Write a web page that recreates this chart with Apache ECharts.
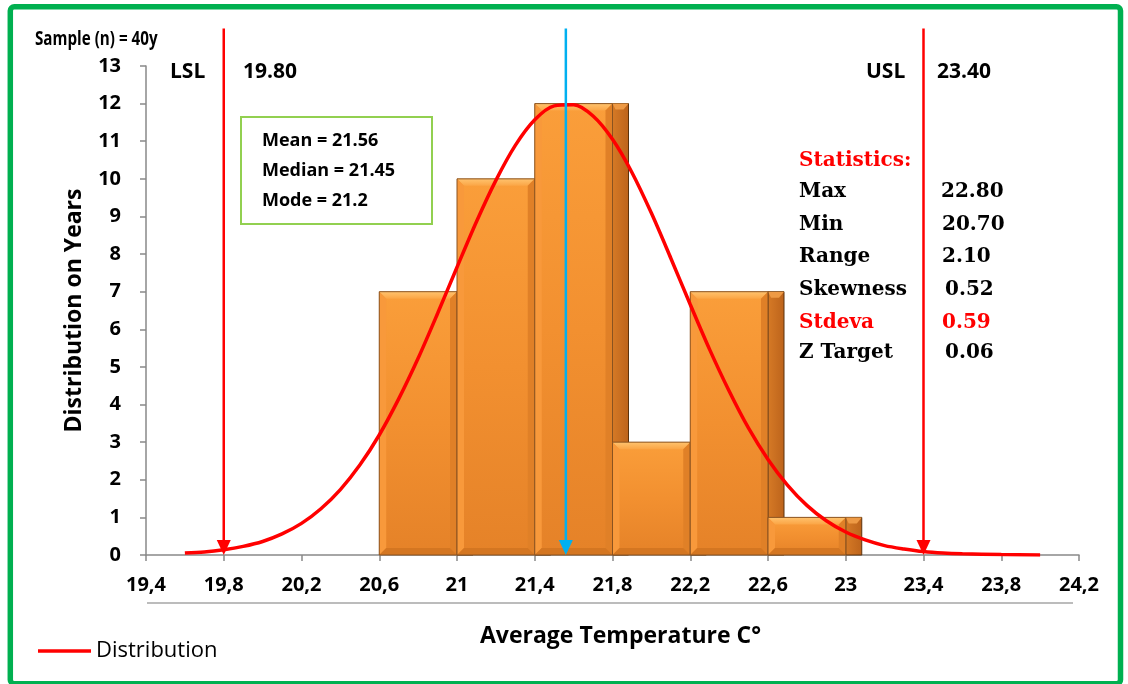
<!DOCTYPE html>
<html>
<head>
<meta charset="utf-8">
<script src="https://cdn.jsdelivr.net/npm/echarts@6/dist/echarts.min.js"></script>
<style>
html,body{margin:0;padding:0;background:#fff;}
#chart{width:1128px;height:684px;}
</style>
</head>
<body>
<div id="chart"></div>
<script>
// ---- data ----
var binStarts = [20.6, 21.0, 21.4, 21.8, 22.2, 22.6];
var binEnds   = [21.0, 21.4, 21.8, 22.2, 22.6, 23.0];
var binCounts = [7, 10, 12, 3, 7, 1];

var curveX = [19.6, 19.7, 19.8, 19.9, 20.0, 20.1, 20.2, 20.3, 20.4, 20.5, 20.6, 20.7, 20.8, 20.9, 21.0,
              21.1, 21.2, 21.3, 21.4, 21.5, 21.6, 21.7, 21.8, 21.9, 22.0, 22.1, 22.2, 22.3, 22.4, 22.5,
              22.6, 22.7, 22.8, 22.9, 23.0, 23.1, 23.2, 23.3, 23.4, 23.5, 23.6, 23.8, 24.0];
var curveY = [0.05, 0.08, 0.14, 0.23, 0.36, 0.56, 0.84, 1.23, 1.74, 2.39, 3.19, 4.15, 5.23, 6.42, 7.65,
              8.86, 9.96, 10.89, 11.57, 11.94, 11.97, 11.67, 11.05, 10.17, 9.09, 7.89, 6.66, 5.46, 4.36, 3.37,
              2.54, 1.86, 1.32, 0.91, 0.61, 0.40, 0.25, 0.16, 0.09, 0.05, 0.03, 0.01, 0.0];

var specLimits = [19.8, 23.4];
var meanValue = 21.56;
var markerTop = 14;

var xMin = 19.4, xMax = 24.2, xStep = 0.4;
var yMin = 0, yMax = 13, yStep = 1;

var statLabels = ['Max', 'Min', 'Range', 'Skewness', 'Stdeva', 'Z Target'];
var statValues = ['22.80', '20.70', '2.10', '0.52', '0.59', '0.06'];
var boxLines = ['Mean = 21.56', 'Median = 21.45', 'Mode = 21.2'];

// ---- build ----
var barData = binStarts.map(function (s, i) { return [s, binEnds[i], binCounts[i]]; });
var curveData = curveX.map(function (x, i) { return [x, curveY[i]]; });

var LG = echarts.graphic.LinearGradient;

function renderBar(params, api) {
  var s = api.value(0), e = api.value(1), c = api.value(2);
  var p0 = api.coord([s, c]);
  var p1 = api.coord([e, 0]);
  var x0 = p0[0], y0 = p0[1], x1 = p1[0], y1 = p1[1];
  var w = x1 - x0, h = y1 - y0, b = 7, d = 16;
  var children = [];
  children.push({ type: 'rect', shape: { x: x1, y: y0, width: d, height: h },
    style: { fill: new LG(0, 0, 1, 0, [{offset: 0, color: '#D67A26'}, {offset: 1, color: '#BC631B'}]), stroke: '#5c320c', lineWidth: 1 } });
  children.push({ type: 'polygon', shape: { points: [[x1, y0], [x1 + d, y0], [x1 + d - 5, y0 + 6], [x1 + 3, y0 + 6]] },
    style: { fill: '#EE9A45' } });
  children.push({ type: 'rect', shape: { x: x0, y: y0, width: w, height: h },
    style: { fill: new LG(0, 0, 0, 1, [{offset: 0, color: '#FA9E3A'}, {offset: 0.5, color: '#F29030'}, {offset: 1, color: '#E58228'}]) } });
  children.push({ type: 'polygon', shape: { points: [[x0, y0], [x1, y0], [x1 - b, y0 + b], [x0 + b, y0 + b]] },
    style: { fill: new LG(0, 0, 0, 1, [{offset: 0, color: '#FFC36E'}, {offset: 1, color: '#FBA545'}]) } });
  children.push({ type: 'polygon', shape: { points: [[x0, y0], [x0 + b, y0 + b], [x0 + b, y1 - b], [x0, y1]] },
    style: { fill: '#F8993B' } });
  children.push({ type: 'polygon', shape: { points: [[x1, y0], [x1 - b, y0 + b], [x1 - b, y1 - b], [x1, y1]] },
    style: { fill: '#E08027' } });
  children.push({ type: 'polygon', shape: { points: [[x0, y1], [x0 + b, y1 - b], [x1 - b, y1 - b], [x1, y1]] },
    style: { fill: '#D47621' } });
  children.push({ type: 'rect', shape: { x: x0, y: y0, width: w, height: h },
    style: { fill: 'none', stroke: '#8a5320', lineWidth: 1 } });
  return { type: 'group', children: children };
}

function makeMarker(color) {
  return function (params, api) {
    var v = api.value(0);
    var top = api.coord([v, markerTop]);
    var bot = api.coord([v, 0]);
    var ah = 15, aw = 7;
    return { type: 'group', children: [
      { type: 'line', shape: { x1: top[0], y1: top[1], x2: bot[0], y2: bot[1] - ah + 2 },
        style: { stroke: color, lineWidth: 2.5 } },
      { type: 'polygon', shape: { points: [[bot[0] - aw, bot[1] - ah], [bot[0] + aw, bot[1] - ah], [bot[0], bot[1]]] },
        style: { fill: color } }
    ] };
  };
}

var FONT = '"Open Sans", "Liberation Sans", sans-serif';
var SERIF = '"DejaVu Serif", "Liberation Serif", serif';

var graphics = [];
graphics.push({ type: 'rect', z: 100, shape: { x: 10.3, y: 6.7, width: 1110.2, height: 677, r: 4 },
  style: { fill: 'none', stroke: '#00B050', lineWidth: 5.5 } });
graphics.push({ type: 'text', x: 35, y: 40, scaleX: 0.8, style: { text: 'Sample (n) = 40y', fill: '#000',
  font: 'bold 19px ' + FONT, textVerticalAlign: 'middle' } });
graphics.push({ type: 'text', x: 170, y: 72, style: { text: 'LSL', fill: '#000', font: 'bold 21px ' + FONT, textVerticalAlign: 'middle' } });
graphics.push({ type: 'text', x: 243, y: 72, style: { text: '19.80', fill: '#000', font: 'bold 21px ' + FONT, textVerticalAlign: 'middle' } });
graphics.push({ type: 'text', x: 866, y: 72, style: { text: 'USL', fill: '#000', font: 'bold 21px ' + FONT, textVerticalAlign: 'middle' } });
graphics.push({ type: 'text', x: 937, y: 72, style: { text: '23.40', fill: '#000', font: 'bold 21px ' + FONT, textVerticalAlign: 'middle' } });
graphics.push({ type: 'rect', shape: { x: 241, y: 117, width: 191, height: 107 },
  style: { fill: '#fff', stroke: '#92D050', lineWidth: 2 } });
var boxY = [141, 171, 201];
boxLines.forEach(function (t, i) {
  graphics.push({ type: 'text', x: 262, y: boxY[i], style: { text: t, fill: '#000', font: 'bold 18px ' + FONT, textVerticalAlign: 'middle' } });
});
graphics.push({ type: 'text', x: 799, y: 161, style: { text: 'Statistics:', fill: '#FF0000', font: 'bold 20px ' + SERIF, textVerticalAlign: 'middle' } });
var statY = [192, 225, 257, 290, 323, 353];
var statVX = [941, 942, 942, 945, 942, 945];
statLabels.forEach(function (t, i) {
  var col = t === 'Stdeva' ? '#FF0000' : '#000';
  graphics.push({ type: 'text', x: 799, y: statY[i], style: { text: t, fill: col, font: 'bold 20px ' + SERIF, textVerticalAlign: 'middle' } });
  graphics.push({ type: 'text', x: statVX[i], y: statY[i], style: { text: statValues[i], fill: col, font: 'bold 20px ' + SERIF, textVerticalAlign: 'middle' } });
});
graphics.push({ type: 'line', shape: { x1: 147, y1: 603, x2: 1073, y2: 603 }, style: { stroke: '#A6A6A6', lineWidth: 1.5 } });

var chart = echarts.init(document.getElementById('chart'), null, { renderer: 'canvas' });
chart.setOption({
  animation: false,
  backgroundColor: '#fff',
  grid: { left: 146, right: 49, top: 66, bottom: 129, containLabel: false },
  legend: {
    data: [{ name: 'Distribution', icon: 'rect' }], left: 38, top: 640, padding: 0, itemWidth: 53, itemHeight: 3.5, itemGap: 10,
    textStyle: { fontSize: 22, fontFamily: FONT, color: '#000', padding: [0, 0, 0, 0] }
  },
  xAxis: {
    type: 'value', min: xMin, max: xMax, interval: xStep,
    name: 'Average Temperature C°', nameLocation: 'middle', nameGap: 70,
    nameTextStyle: { fontSize: 23, fontWeight: 'bold', fontFamily: FONT, color: '#000', padding: [0, 0, 0, 16] },
    axisLine: { show: true, lineStyle: { color: '#898989', width: 1.5 } },
    axisTick: { show: true, length: 6, lineStyle: { color: '#898989', width: 1.5 } },
    axisLabel: { margin: 20, fontSize: 20, fontWeight: 'bold', fontFamily: FONT, color: '#000',
      formatter: function (v) { return String(+v.toFixed(1)).replace('.', ','); } },
    splitLine: { show: false }
  },
  yAxis: {
    type: 'value', min: yMin, max: yMax, interval: yStep,
    name: 'Distribution on Years', nameLocation: 'middle', nameGap: 60, nameRotate: 90,
    nameTextStyle: { fontSize: 23, fontWeight: 'bold', fontFamily: FONT, color: '#000' },
    axisLine: { show: true, lineStyle: { color: '#898989', width: 1.5 } },
    axisTick: { show: true, length: 6, lineStyle: { color: '#898989', width: 1.5 } },
    axisLabel: { margin: 25, fontSize: 20, fontWeight: 'bold', fontFamily: FONT, color: '#000' },
    splitLine: { show: false }
  },
  graphic: graphics,
  series: [
    { type: 'custom', name: 'Histogram', renderItem: renderBar, data: barData, z: 2,
      encode: { x: [0, 1], y: 2 }, clip: false },
    { type: 'line', name: 'Distribution', data: curveData, smooth: 0.3, symbol: 'none', z: 3,
      lineStyle: { color: '#FF0000', width: 3.5 }, itemStyle: { color: '#FF0000' } },
    { type: 'custom', name: 'Spec', renderItem: makeMarker('#FF0000'), data: specLimits.map(function (v) { return [v]; }),
      z: 4, clip: false, encode: { x: 0 } },
    { type: 'custom', name: 'Mean', renderItem: makeMarker('#00B0F0'), data: [[meanValue]],
      z: 4, clip: false, encode: { x: 0 } }
  ]
});
</script>
</body>
</html>
